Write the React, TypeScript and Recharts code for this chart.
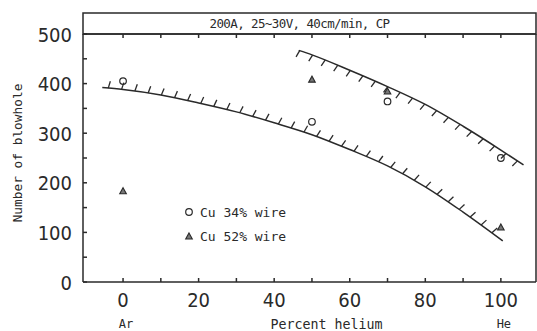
import React, { useEffect, useRef, useState } from "react";
import {
  ComposedChart,
  Line,
  Scatter,
  XAxis,
  YAxis,
  Legend,
} from "recharts";

// percent helium / number of blowholes
const CU34_X = [0, 50, 70, 100];
const CU34_Y = [405, 323, 364, 250];
const CU52_X = [0, 50, 70, 100];
const CU52_Y = [183, 408, 384, 110];

// hand-drawn boundary curves
const LOWER_X = [-5.5, 0, 10, 20, 30, 40, 50, 60, 70, 80, 90, 100.5];
const LOWER_Y = [392, 388, 377, 361, 343, 321, 297, 267, 234, 192, 141, 83];
const UPPER_X = [46.5, 50, 60, 70, 80, 90, 100, 106];
const UPPER_Y = [467, 458, 427, 394, 358, 314, 266, 236];

const X_TICKS = [0, 10, 20, 30, 40, 50, 60, 70, 80, 90, 100];
const Y_TICKS = [0, 50, 100, 150, 200, 250, 300, 350, 400, 450, 500];
const END_LABELS: Record<number, string> = { 0: "Ar", 100: "He" };

const TITLE = "200A, 25~30V, 40cm/min, CP";

const zip = (xs: number[], ys: number[]) => xs.map((x, i) => ({ x, y: ys[i] }));
const cu34 = zip(CU34_X, CU34_Y);
const cu52 = zip(CU52_X, CU52_Y);
const lower = zip(LOWER_X, LOWER_Y);
const upper = zip(UPPER_X, UPPER_Y);

const INK = "#2a2a2a";
const MONO = "'DejaVu Sans Mono', monospace";
const NARROW = "'Liberation Sans Narrow', 'DejaVu Sans Condensed', sans-serif";

// hatch settings for the two curves (side of the curve the hatches sit on)
const HATCH = [
  { cls: "curve-lower", side: 1, start: 6, step: 13.4, len: 7, lean: 1.5 },
  { cls: "curve-upper", side: -1, start: 1, step: 13.6, len: 7, lean: -1.5 },
];

type Seg = { x1: number; y1: number; x2: number; y2: number };

const Circle = (props: any) => {
  const { cx, cy } = props;
  if (cx == null || cy == null) return null;
  return <circle cx={cx} cy={cy} r={3.3} fill="#fff" stroke={INK} strokeWidth={1.2} />;
};

const Triangle = (props: any) => {
  const { cx, cy } = props;
  if (cx == null || cy == null) return null;
  return (
    <path
      d={`M${cx},${cy - 3.5}L${cx + 3.3},${cy + 2.5}L${cx - 3.3},${cy + 2.5}Z`}
      fill="#777"
      stroke={INK}
      strokeWidth={1.1}
    />
  );
};

const BottomTick = (props: any) => {
  const { x, y, payload } = props;
  const v = payload.value;
  if (v % 20 !== 0) return null;
  return (
    <g>
      <text x={x} y={y} dy={15} textAnchor="middle" fontFamily={NARROW} fontSize={20} fill={INK}>
        {v}
      </text>
      {END_LABELS[v] && (
        <text x={x + 3} y={y} dy={36} textAnchor="middle" fontFamily={MONO} fontSize={12} fill={INK}>
          {END_LABELS[v]}
        </text>
      )}
    </g>
  );
};

const LeftTick = (props: any) => {
  const { x, y, payload } = props;
  if (payload.value % 100 !== 0) return null;
  return (
    <text x={x} y={y} dy={7.5} textAnchor="end" fontFamily={NARROW} fontSize={20} fill={INK}>
      {payload.value}
    </text>
  );
};

const TitleBand = (props: any) => {
  const vb = props.viewBox;
  if (!vb) return null;
  return (
    <g>
      <rect x={vb.x} y={vb.y} width={vb.width} height={vb.height} fill="none" stroke={INK} strokeWidth={1.5} />
      <text
        x={vb.x + vb.width / 2 - 10}
        y={vb.y + vb.height / 2 + 4.5}
        textAnchor="middle"
        fontFamily={MONO}
        fontSize={12.5}
        letterSpacing={-0.6}
        fill={INK}
      >
        {TITLE}
      </text>
    </g>
  );
};

const XTitle = (props: any) => {
  const vb = props.viewBox;
  if (!vb) return null;
  return (
    <text x={vb.x + vb.width / 2 + 17} y={329} textAnchor="middle" fontFamily={MONO} fontSize={13.3} fill={INK}>
      Percent helium
    </text>
  );
};

const YTitle = () => (
  <text
    x={18}
    y={153}
    transform="rotate(-90 18 153)"
    textAnchor="middle"
    dominantBaseline="middle"
    fontFamily={MONO}
    fontSize={12.8}
    fill={INK}
  >
    Number of blowhole
  </text>
);

const LegendBox = (props: any) => {
  const items = (props.payload || []).filter((p: any) => p.type !== "none");
  return (
    <div style={{ fontFamily: MONO, fontSize: 13, color: INK }}>
      {items.map((p: any) => (
        <div key={p.value} style={{ display: "flex", alignItems: "center", height: 24 }}>
          <svg width={12} height={12} style={{ marginRight: 5 }}>
            {p.value.includes("34") ? <Circle cx={6} cy={6} /> : <Triangle cx={6} cy={6.5} />}
          </svg>
          <span>{p.value}</span>
        </div>
      ))}
    </div>
  );
};

export default function App() {
  const wrapRef = useRef<HTMLDivElement>(null);
  const [hatches, setHatches] = useState<Seg[]>([]);

  // add the hatch marks along the drawn boundary curves
  useEffect(() => {
    let tries = 0;
    let timer: any;
    const build = () => {
      const root = wrapRef.current;
      if (!root) return;
      const out: Seg[] = [];
      let found = 0;
      for (const h of HATCH) {
        const path = root.querySelector(`.${h.cls} path.recharts-line-curve`) as SVGPathElement | null;
        if (!path) continue;
        found++;
        const total = path.getTotalLength();
        for (let s = h.start; s < total - 3; s += h.step) {
          const p = path.getPointAtLength(s);
          const q = path.getPointAtLength(Math.min(total, s + 1));
          const dx = q.x - p.x;
          const dy = q.y - p.y;
          const l = Math.hypot(dx, dy) || 1;
          const tx = dx / l;
          const ty = dy / l;
          const nx = ty * h.side;
          const ny = -tx * h.side;
          out.push({
            x1: p.x,
            y1: p.y,
            x2: p.x + nx * h.len + tx * h.lean,
            y2: p.y + ny * h.len + ty * h.lean,
          });
        }
      }
      if (found < HATCH.length && tries++ < 40) {
        timer = setTimeout(build, 50);
        return;
      }
      setHatches(out);
    };
    build();
    return () => clearTimeout(timer);
  }, []);

  return (
    <div ref={wrapRef} style={{ position: "absolute", left: 0, top: 0, width: 537, height: 331, background: "#fff" }}>
      <ComposedChart width={537} height={331} margin={{ top: 13, right: 0, bottom: 0, left: 0 }}>
        <XAxis
          xAxisId="bottom"
          type="number"
          dataKey="x"
          domain={[-10.6, 109.3]}
          ticks={X_TICKS}
          interval={0}
          height={49}
          allowDataOverflow
          tickSize={-4}
          tickMargin={14}
          tick={<BottomTick />}
          stroke={INK}
          strokeWidth={1.5}
          label={<XTitle />}
        />
        <XAxis
          xAxisId="top"
          orientation="top"
          type="number"
          dataKey="x"
          domain={[-10.6, 109.3]}
          ticks={X_TICKS}
          interval={0}
          height={21}
          allowDataOverflow
          tickSize={-4}
          tickFormatter={() => ""}
          stroke={INK}
          strokeWidth={1.5}
          label={<TitleBand />}
        />
        <YAxis
          yAxisId="left"
          type="number"
          domain={[0, 500]}
          ticks={Y_TICKS}
          interval={0}
          width={83}
          tickSize={-4}
          tickMargin={15}
          tick={<LeftTick />}
          stroke={INK}
          strokeWidth={1.5}
          label={<YTitle />}
        />
        <YAxis
          yAxisId="right"
          orientation="right"
          type="number"
          domain={[0, 500]}
          ticks={Y_TICKS}
          interval={0}
          width={1}
          tickSize={4}
          tickFormatter={() => ""}
          stroke={INK}
          strokeWidth={1.5}
        />
        <Line
          className="curve-lower"
          xAxisId="bottom"
          yAxisId="left"
          data={lower}
          dataKey="y"
          type="monotone"
          stroke={INK}
          strokeWidth={1.5}
          dot={false}
          legendType="none"
          isAnimationActive={false}
        />
        <Line
          className="curve-upper"
          xAxisId="bottom"
          yAxisId="left"
          data={upper}
          dataKey="y"
          type="monotone"
          stroke={INK}
          strokeWidth={1.5}
          dot={false}
          legendType="none"
          isAnimationActive={false}
        />
        <Scatter
          name="Cu 34% wire"
          xAxisId="bottom"
          yAxisId="left"
          data={cu34}
          dataKey="y"
          shape={<Circle />}
          isAnimationActive={false}
        />
        <Scatter
          name="Cu 52% wire"
          xAxisId="bottom"
          yAxisId="left"
          data={cu52}
          dataKey="y"
          shape={<Triangle />}
          isAnimationActive={false}
        />
        <Legend
          layout="vertical"
          align="center"
          verticalAlign="middle"
          content={<LegendBox />}
          wrapperStyle={{ left: 183, top: 200, width: 140, height: 48 }}
        />
      </ComposedChart>
      <svg
        width={537}
        height={331}
        style={{ position: "absolute", left: 0, top: 0, pointerEvents: "none" }}
      >
        {hatches.map((h, i) => (
          <line key={i} x1={h.x1} y1={h.y1} x2={h.x2} y2={h.y2} stroke={INK} strokeWidth={1.3} />
        ))}
      </svg>
    </div>
  );
}
